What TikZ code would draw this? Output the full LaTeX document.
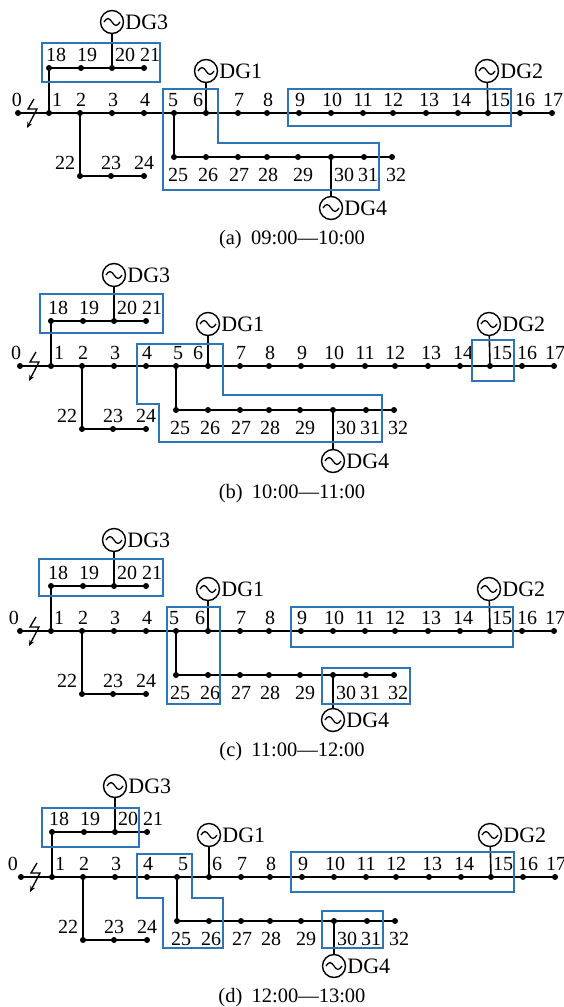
\documentclass[tikz,border=0pt]{standalone}
\usepackage{fontspec}
\setmainfont{Liberation Serif}
\usetikzlibrary{arrows.meta,calc}
\definecolor{boxblue}{RGB}{46,117,182}
\tikzset{
 dot/.style={circle,fill=black,inner sep=0pt,minimum size=6pt},
 wire/.style={line width=1.6pt,black},
 zone/.style={line width=1.5pt,draw=boxblue},
 lab/.style={anchor=base,inner sep=0pt,font=\fontsize{20}{21}\selectfont},
 gen/.style={circle,draw,line width=1.4pt,minimum size=23pt,inner sep=0pt},
 genlab/.style={anchor=base west,inner sep=0pt,font=\fontsize{22}{24}\selectfont},
 captext/.style={anchor=base,inner sep=0pt,font=\fontsize{20.5}{22}\selectfont},
}
\newcommand\tildeat[1]{\draw[line width=1.3pt] ($(#1)+(-8,0)$) sin ++(4,-3.5) cos ++(4,3.5) sin ++(4,3.5) cos ++(4,-3.5);}
% #1 prefix, #2 bus y, #3 dx, #4 dg4 y, #5 label0 off, #6 label5 off, #7 label6 off, #8 caption baseline, #9 caption
\newcommand\drawpanel[9]{%
\begin{scope}[shift={(#3,#2)}]
 \foreach \n/\x in {0/18,1/49,2/80,3/112,4/144,5/174,6/206,7/238,8/267,9/299,10/331,11/363,12/393,13/426,14/458,15/488,16/520,17/552}
   \coordinate (#1\n) at (\x,0);
 \foreach \n/\x in {18/49,19/81,20/112,21/144}
   \coordinate (#1\n) at (\x,-45);
 \coordinate (#122) at (80,63);
 \coordinate (#123) at (111,63);
 \coordinate (#124) at (144,63);
 \foreach \n/\x in {25/174,26/206,27/238,28/267,29/298,30/331,31/364,32/392}
   \coordinate (#1\n) at (\x,44);
 \node[gen] (#1dg3) at (112,-91) {};
 \node[gen] (#1dg1) at (206,-42) {};
 \node[gen] (#1dg2) at (487,-42) {};
 \node[gen] (#1dg4) at (331,#4) {};
 \tildeat{#1dg3}\tildeat{#1dg1}\tildeat{#1dg2}\tildeat{#1dg4}
 \node[genlab] (#1t3) at ($(#1dg3.east)+(1,7.5)$) {DG3};
 \node[genlab] (#1t1) at ($(#1dg1.east)+(1,7.5)$) {DG1};
 \node[genlab] (#1t2) at ($(#1dg2.east)+(1,7.5)$) {DG2};
 \node[genlab] (#1t4) at ($(#1dg4.east)+(1,7.5)$) {DG4};
 \draw[wire] (#10) -- (#117);
 \draw[wire] (#11) -- (#118) -- (#121);
 \draw[wire] (#12) -- (#122) -- (#124);
 \draw[wire] (#15) -- (#125) -- (#132);
 \draw[wire] (#120) -- (#1dg3);
 \draw[wire] (#16) -- (#1dg1);
 \draw[wire] (#115) -- (#1dg2);
 \draw[wire] (#130) -- (#1dg4);
 \foreach \n in {0,...,32} \node[dot] (#1d\n) at (#1\n) {};
 \draw[line width=1.3pt,-{Stealth[length=6pt,width=5pt]}] (34,-14) -- (28,-4) -- (37,-4) -- (27,15);
 \foreach \n/\o in {0/#5,1/8,2/1,3/1,4/1,5/#6,6/#7,7/1,8/1,9/1,10/1,11/0,12/0,13/3,14/3,15/12,16/5,17/1,18/7,19/6,20/13,21/6,23/0,24/0}
   \node[lab] (#1l\n) at ($(#1\n)+(\o,-6.3)$) {\n};
 \node[lab] (#1l22) at ($(#122)+(-15,-6.5)$) {22};
 \foreach \n/\o in {25/4,26/2,27/1,28/1,29/5,30/13,31/4,32/4}
   \node[lab] (#1l\n) at ($(#1\n)+(\o,24.7)$) {\n};
 \node[captext] (#1cap) at ({292-#3},{#8-#2}) {#9};
\end{scope}}
\begin{document}
\begin{tikzpicture}[x=1pt,y=-1pt]
\useasboundingbox (0,0) rectangle (563,1007);
\drawpanel{a}{113}{0}{95}{-1}{-1}{-8}{244}{(a)\hspace{0.45em}09:00—10:00}
\drawpanel{b}{366}{2}{95}{-4}{2}{-10}{498}{(b)\hspace{0.45em}10:00—11:00}
\drawpanel{c}{631}{2}{89}{-6}{-2}{-8}{756}{(c)\hspace{0.45em}11:00—12:00}
\drawpanel{d}{877}{3}{89}{-8}{6}{8}{1002}{(d)\hspace{0.45em}12:00—13:00}
% zones (a)
\draw[zone] (42,43) rectangle (160,82);
\draw[zone] (163,89) -- (218,89) -- (218,143) -- (379,143) -- (379,190) -- (163,190) -- cycle;
\draw[zone] (288,89) rectangle (511,126);
% zones (b)
\draw[zone] (40,294) rectangle (163,333);
\draw[zone] (137,344) -- (223,344) -- (223,395) -- (382,395) -- (382,442) -- (159,442) -- (159,404) -- (137,404) -- cycle;
\draw[zone] (472,340) rectangle (514,381);
% zones (c)
\draw[zone] (39,559) rectangle (163,596);
\draw[zone] (167,607) rectangle (220,704);
\draw[zone] (291,607) rectangle (513,647);
\draw[zone] (322,668) rectangle (410,704);
% zones (d)
\draw[zone] (42,808) rectangle (139,847);
\draw[zone] (137,854) -- (192,854) -- (192,898) -- (223,898) -- (223,948) -- (163,948) -- (163,898) -- (137,898) -- cycle;
\draw[zone] (291,852) rectangle (514,892);
\draw[zone] (322,911) rectangle (383,948);
\end{tikzpicture}
\end{document}
